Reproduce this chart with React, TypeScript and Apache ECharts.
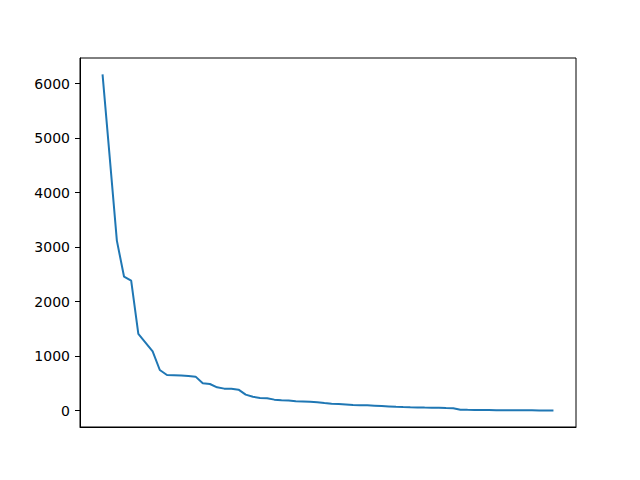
import * as echarts from "echarts"
import { useEffect, useRef } from "react"

// values, one per sample, sorted descending
const values: number[] = [
  6170, 4650, 3120, 2460, 2385, 1407, 1250, 1089, 746, 655,
  650, 645, 637, 624, 501, 489, 428, 404, 400, 385,
  294, 255, 233, 226, 202, 190, 185, 172, 168, 162,
  155, 140, 127, 122, 115, 105, 100, 97, 92, 86,
  78, 70, 65, 62, 60, 57, 55, 52, 48, 45,
  18, 15, 13, 11, 10, 9, 8, 7, 7, 6,
  6, 5, 5, 4,
]

const yTicks = [0, 1000, 2000, 3000, 4000, 5000, 6000]

export default function App(): React.ReactElement {
  const ref = useRef<HTMLDivElement>(null)

  useEffect(() => {
    document.body.style.margin = "0"
    const node = ref.current
    if (!node) return
    const chart = echarts.init(node, undefined, { renderer: "svg" })

    const n = values.length
    const pad = (n - 1) * 0.05
    const data = values.map((v, i) => [i, v])

    chart.setOption({
      animation: false,
      backgroundColor: "#ffffff",
      textStyle: { fontFamily: "DejaVu Sans" },
      grid: {
        left: 80,
        right: 64,
        top: 58,
        bottom: 53,
        show: true,
        borderColor: "#000000",
        borderWidth: 1,
        backgroundColor: "transparent",
      },
      xAxis: {
        type: "value",
        min: -pad,
        max: n - 1 + pad,
        axisLine: { show: true, onZero: false, lineStyle: { color: "#000000", width: 1 } },
        axisTick: { show: false },
        axisLabel: { show: false },
        splitLine: { show: false },
      },
      yAxis: {
        type: "value",
        min: -300,
        max: 6470,
        axisLine: { show: true, onZero: false, lineStyle: { color: "#000000", width: 1 } },
        axisTick: {
          show: true,
          length: 5,
          customValues: yTicks,
          lineStyle: { color: "#000000", width: 1 },
        },
        axisLabel: {
          customValues: yTicks,
          margin: 10,
          fontSize: 14,
          color: "#000000",
          fontFamily: "DejaVu Sans",
          formatter: (v: number) => String(v),
        },
        splitLine: { show: false },
      },
      series: [
        {
          type: "line",
          data,
          showSymbol: false,
          lineStyle: { color: "#1f77b4", width: 2 },
        },
      ],
    })

    return () => {
      chart.dispose()
    }
  }, [])

  return <div ref={ref} style={{ width: 640, height: 480 }} />
}
